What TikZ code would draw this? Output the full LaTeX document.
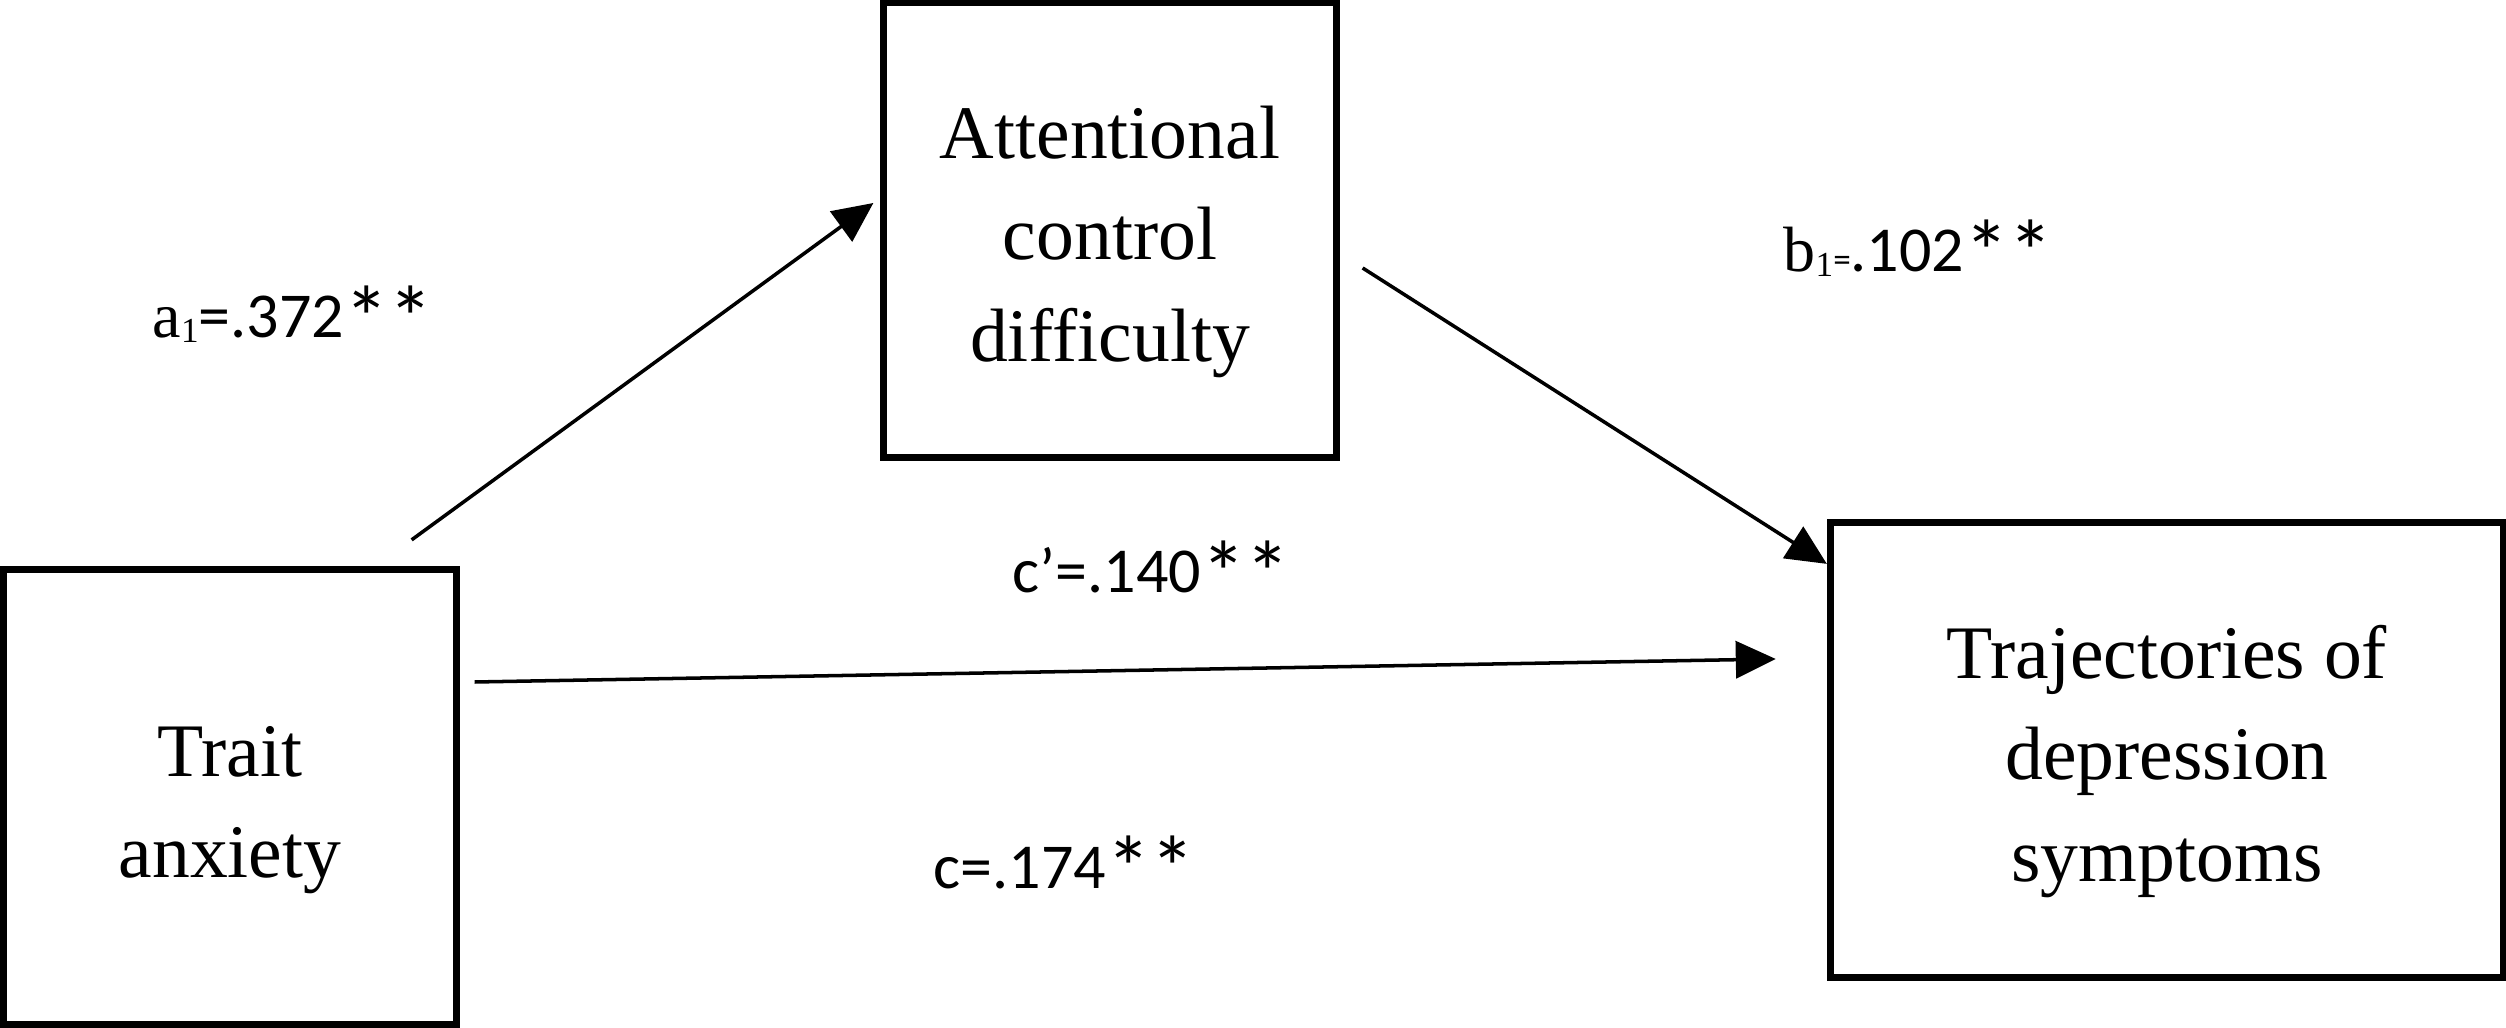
\documentclass[tikz,border=0pt]{standalone}
\usepackage{fontspec}
\usepackage{graphicx}
\setmainfont{Liberation Serif}
\newfontfamily\labfont{Carlito}
\usetikzlibrary{arrows.meta,calc}
\newcommand\subone{\raisebox{-1.4pt}{\rmfamily\fontsize{10}{10}\selectfont 1}}
\newcommand\bigstar{\raisebox{-3.2pt}{\scalebox{1.4}{*}}}
\newcommand\topstrut{\rule{0pt}{21.6pt}}
\begin{document}
\begin{tikzpicture}[x=0.01cm,y=-0.01cm,
  box/.style={draw, line width=2pt, outer sep=0pt, inner sep=0pt, align=center,
              font=\fontsize{21.5}{28.8}\selectfont},
  pathline/.style={line width=1pt, -{Triangle[length=0.4cm,width=0.37cm]}},
  coef/.style={anchor=base west, inner sep=0pt, font=\labfont\fontsize{18.2}{20}\selectfont}]
\useasboundingbox (0,0) rectangle (2506,1028);
\node[box, minimum width=4.53cm, minimum height=4.54cm] (trait) at (230,797)
  {\topstrut Trait\\anxiety};
\node[box, minimum width=4.53cm, minimum height=4.54cm] (att) at (1110,230)
  {\topstrut Attentional\\control\\difficulty};
\node[box, minimum width=6.72cm, minimum height=4.54cm] (traj) at (2167,750)
  {\topstrut Trajectories of\\depression\\symptoms};
\draw[pathline] ($(trait.north east)+(-45,-30)$) -- ($(att.west)+(-10,-27)$);
\draw[pathline] ($(att.east)+(26,38)$) -- ($(traj.north west)+(-4,41)$);
\draw[pathline] ($(trait.east)+(18,-115)$) -- ($(traj.west)+(-55,-91)$);
\node[coef] (la) at (152,338) {{\rmfamily a}\subone=.372\bigstar\bigstar};
\node[coef] (lb) at (1783,272) {{\rmfamily b}\subone{\fontsize{10}{10}\selectfont=}.102\bigstar\bigstar};
\node[coef] (lcp) at (1012,593) {c’=.140\bigstar\bigstar};
\node[coef] (lc) at (933,888) {c=.174\bigstar\bigstar};
\end{tikzpicture}
\end{document}
